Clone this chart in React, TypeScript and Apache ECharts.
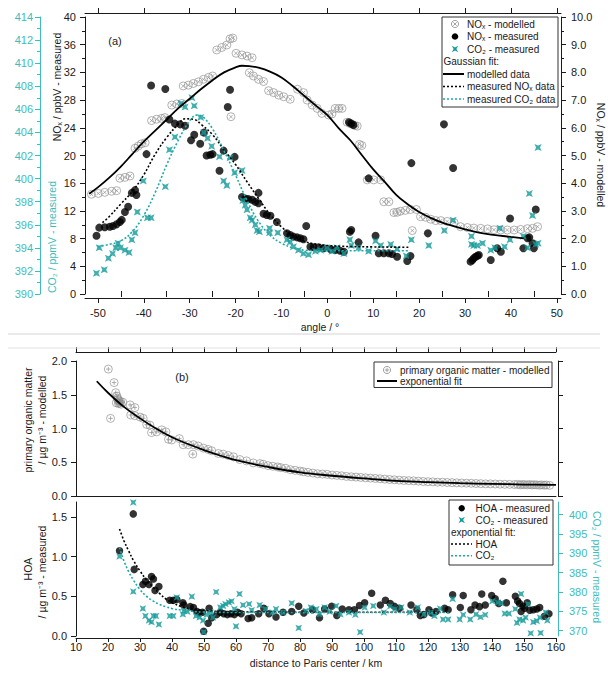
import React, { useEffect, useRef } from "react";
import * as echarts from "echarts";

// ---------------- Panel (a): angle (deg) ----------------
const angleTicks = [-50, -40, -30, -20, -10, 0, 10, 20, 30, 40, 50];
const angleMinorTicks = [-45, -35, -25, -15, -5, 5, 15, 25, 35, 45];

// NOx modelled [angle, ppbV] (right axis)
const noxModelled = [
  [-51.4, 3.6], [-49.9, 3.63], [-48.5, 3.67], [-47.0, 3.71], [-45.9, 3.73],
  [-45.2, 4.18], [-44.1, 4.21], [-43.0, 4.26],
  [-41.9, 5.26], [-41.2, 5.34], [-40.5, 5.42], [-39.7, 5.46],
  [-38.3, 6.26], [-37.2, 6.31], [-36.1, 6.34], [-35.4, 6.37],
  [-33.9, 6.82], [-32.8, 6.86], [-31.7, 6.88],
  [-31.4, 7.51], [-30.3, 7.54], [-29.2, 7.6], [-28.1, 7.66], [-27.0, 7.75], [-25.9, 7.82], [-25.0, 7.87],
  [-24.1, 8.81], [-23.0, 8.9], [-21.9, 8.99], [-21.2, 9.21], [-20.6, 9.24], [-21.0, 6.4],
  [-19.9, 8.69], [-18.6, 8.63], [-17.5, 8.59], [-16.4, 8.53],
  [-17.0, 7.99], [-16.1, 7.87], [-15.0, 7.75], [-13.9, 7.67],
  [-12.8, 7.34], [-11.7, 7.27], [-10.6, 7.18], [-9.5, 7.12], [-8.1, 7.03],
  [-6.5, 7.39], [-5.2, 7.27], [-4.4, 7.0], [-3.3, 6.82], [-2.2, 6.7], [-1.2, 6.52],
  [0.3, 6.46], [1.0, 6.5], [1.7, 6.7], [2.5, 6.7], [3.2, 6.7],
  [4.3, 6.2], [5.0, 6.15], [5.4, 6.13], [6.0, 6.08], [6.5, 6.06], [7.0, 5.4], [7.5, 5.36],
  [8.7, 4.12], [10.1, 4.12], [11.6, 4.12], [12.3, 3.33], [13.4, 3.33],
  [14.5, 2.94], [15.2, 2.95], [15.9, 2.99], [17.0, 3.02], [18.1, 3.05], [19.4, 3.05], [18.5, 2.29],
  [20.3, 2.79], [21.4, 2.77], [22.5, 2.7], [23.6, 2.65], [24.7, 2.65], [26.1, 2.62], [27.6, 2.58],
  [29.0, 2.43], [30.5, 2.4], [31.9, 2.38], [33.4, 2.37], [34.9, 2.35], [36.3, 2.32], [37.8, 2.31],
  [39.2, 2.31], [40.7, 2.31], [42.1, 2.33], [43.6, 2.36], [44.7, 2.37], [45.8, 2.43],
];
// Gaussian fit of modelled NOx [angle, ppbV]
const noxModelledFit = [
  [-51.9, 3.62], [-50, 3.85], [-47.5, 4.2], [-45, 4.6], [-42.5, 5.05], [-40, 5.5], [-37.5, 5.9],
  [-35, 6.3], [-32.5, 6.7], [-30, 7.05], [-27.5, 7.4], [-25, 7.72], [-22.5, 8.0], [-20, 8.18],
  [-18.6, 8.24], [-17, 8.23], [-15, 8.17], [-12.5, 8.03], [-10, 7.82], [-7.5, 7.5], [-5, 7.15],
  [-2.5, 6.8], [0, 6.46], [2.5, 5.98], [5, 5.55], [7.5, 5.02], [10, 4.5], [12.5, 4.05],
  [15, 3.58], [17.5, 3.24], [20, 2.96], [22.5, 2.75], [25, 2.58], [27.5, 2.45], [30, 2.33],
  [32.5, 2.23], [35, 2.16], [37.5, 2.11], [40, 2.06], [42.8, 2.01],
];
// NOx measured [angle, ppbV] (left axis)
const noxMeasured = [
  [-50.3, 8.42], [-49.7, 9.58], [-48.5, 9.63], [-47.4, 9.72], [-46.7, 9.82], [-45.9, 10.06], [-45.2, 10.4], [-44.8, 10.7],
  [-44.1, 11.84], [-43.4, 12.6], [-42.6, 14.6], [-41.9, 15.0], [-41.6, 14.3],
  [-39.4, 20.2], [-38.4, 30.1], [-35.3, 29.6], [-34.4, 25.2],
  [-33.2, 24.6], [-32.1, 24.5], [-31.0, 24.3],
  [-29.7, 22.2], [-29.0, 23.0], [-27.7, 21.7], [-26.9, 23.3], [-26.3, 20.0], [-25.5, 20.1], [-25.0, 20.2],
  [-23.5, 17.8], [-22.6, 20.7], [-21.7, 27.0], [-21.2, 29.5], [-20.2, 19.8],
  [-18.6, 14.0], [-17.9, 13.8], [-17.2, 13.7], [-16.4, 13.6], [-15.7, 13.3], [-15.0, 13.1], [-15.0, 14.6],
  [-13.9, 11.6], [-13.2, 11.4], [-12.4, 11.3], [-11.0, 10.4],
  [-8.8, 8.76], [-8.1, 8.52], [-7.4, 8.28], [-6.6, 8.18], [-5.9, 8.04], [-5.2, 7.9], [-4.6, 9.82],
  [-3.7, 6.83], [-3.0, 6.74], [-1.9, 6.74], [-0.8, 6.6], [0.7, 6.45], [1.7, 6.35], [2.8, 6.25], [3.6, 6.1],
  [4.7, 24.8], [5.2, 24.6], [5.7, 24.4], [4.9, 9.0], [5.2, 9.24], [6.8, 7.46],
  [9.0, 16.7], [10.5, 8.42], [11.2, 5.88], [12.3, 5.88], [13.4, 5.88], [14.1, 5.78], [15.2, 5.39],
  [17.4, 4.77], [18.1, 5.49], [18.3, 18.9], [21.9, 8.76], [25.4, 24.5], [27.4, 18.2],
  [31.2, 4.67], [31.6, 4.91], [31.9, 5.16], [32.3, 5.39], [32.7, 5.53], [33.0, 5.63],
  [35.6, 4.91], [37.0, 6.6], [37.8, 6.1], [39.8, 10.9], [42.7, 6.6], [43.6, 8.04], [44.0, 8.18],
  [44.7, 7.32], [45.0, 6.6], [45.4, 12.2],
];
// Gaussian fit of measured NOx [angle, ppbV]
const noxMeasuredFit = [
  [-49, 10.3], [-47.5, 11.2], [-45, 13.0], [-42.5, 14.8], [-40, 17.2], [-37.5, 20.2], [-35, 22.6],
  [-32.5, 24.5], [-31, 25.3], [-29, 25.2], [-27.5, 24.5], [-25, 23.0], [-22.5, 20.8], [-20, 18.7],
  [-17.5, 16.2], [-15, 13.8], [-12.5, 11.5], [-10, 9.7], [-7.5, 8.4], [-5, 7.6], [-2.5, 7.2],
  [0, 7.0], [5, 6.85], [10, 6.8], [15, 6.76], [18, 6.74],
];
// CO2 measured [angle, ppmV] (outer left axis)
const co2MeasuredA = [
  [-50.3, 391.8], [-49.7, 394.0], [-48.6, 392.1], [-47.7, 393.1], [-46.8, 393.5], [-46.1, 394.0], [-45.6, 394.4],
  [-45.1, 394.0], [-44.1, 393.8], [-43.2, 393.6], [-42.6, 394.7], [-41.9, 395.3], [-41.4, 397.1], [-40.1, 399.8],
  [-39.2, 396.6], [-38.4, 396.6], [-35.3, 399.3], [-34.4, 402.5], [-33.2, 403.6], [-31.9, 406.5], [-31.0, 406.2],
  [-29.5, 407.0], [-29.0, 406.3], [-27.6, 405.3], [-26.9, 404.0], [-26.1, 403.5], [-25.2, 402.8], [-23.5, 401.9],
  [-22.6, 399.8], [-21.9, 399.4], [-21.2, 401.8], [-20.2, 400.5], [-18.6, 400.7], [-18.4, 398.1], [-17.9, 397.7],
  [-17.5, 397.3], [-16.8, 396.6], [-16.4, 396.4], [-15.7, 396.0], [-15.3, 395.5], [-14.8, 395.4], [-12.6, 395.7],
  [-12.6, 395.3], [-10.8, 395.3], [-8.8, 394.7], [-8.1, 394.5], [-7.4, 394.1], [-6.3, 393.8], [-5.2, 393.5],
  [-4.1, 393.4], [-2.6, 393.7], [-1.5, 393.8], [-0.1, 394.0], [1.0, 393.7], [2.1, 394.0], [3.6, 393.5],
  [4.9, 394.7], [5.2, 394.2], [6.8, 394.0], [9.0, 393.7], [10.5, 394.6], [11.6, 394.2], [13.8, 394.3],
  [15.2, 393.9], [17.2, 393.3], [18.3, 394.7], [22.1, 394.2], [25.5, 395.5], [27.4, 396.4], [31.4, 395.0],
  [31.4, 394.3], [31.9, 394.2], [32.7, 394.2], [33.8, 394.4], [35.6, 393.8], [36.5, 394.0], [37.6, 395.7],
  [38.6, 394.1], [39.8, 394.7], [42.7, 395.0], [43.6, 394.0], [44.0, 398.7], [44.7, 396.8], [45.4, 394.3],
  [45.9, 394.4], [45.9, 402.7],
];
// Gaussian fit of measured CO2 [angle, ppmV]
const co2FitA = [
  [-50, 394.1], [-47.5, 394.3], [-45, 394.6], [-42.5, 395.4], [-40, 396.8], [-37.5, 398.8], [-35, 401.2],
  [-32.5, 403.3], [-30, 405.0], [-28.5, 405.5], [-27, 405.3], [-25, 404.3], [-22.5, 402.4], [-20, 400.3],
  [-17.5, 398.1], [-15, 396.3], [-12.5, 395.1], [-10, 394.4], [-7.5, 394.0], [-5, 393.8], [0, 393.75],
  [10, 393.75], [18, 393.75],
];

// ---------------- Panel (b): distance to Paris center (km) ----------------
const hoaTicks = [0, 0.5, 1.0, 1.5];
const co2TicksB = [370, 375, 380, 385, 390, 395, 400];

// primary organic matter modelled [km, ug m-3]
const pomModelled = [
  [20.1, 1.88], [21.9, 1.68], [20.8, 1.15], [22.4, 1.53], [22.8, 1.48], [22.9, 1.45], [23.1, 1.43], [23.3, 1.37],
  [23.4, 1.41], [23.6, 1.38], [22.6, 1.38], [23.9, 1.4], [24.1, 1.36], [24.6, 1.39], [26.9, 1.35], [28.4, 1.31],
  [27.1, 1.2], [28.4, 1.19], [30.0, 1.17], [31.0, 1.15], [32.1, 1.06], [33.1, 1.05], [33.6, 0.94], [35.2, 0.95],
  [36.8, 0.98], [38.1, 0.95], [38.9, 0.84], [39.9, 0.83], [42.3, 0.85], [43.5, 0.76], [45.1, 0.76], [46.7, 0.76],
  [48.2, 0.74], [46.5, 0.62], [49.8, 0.71], [51.3, 0.69], [52.4, 0.67], [54.5, 0.63], [56.0, 0.62], [57.6, 0.6],
  [59.2, 0.58], [61.2, 0.54], [63.3, 0.52], [65.4, 0.49], [67.5, 0.48], [68.5, 0.47], [70, 0.45], [71.5, 0.44],
  [73, 0.43], [74, 0.42], [75.5, 0.41], [77, 0.39], [78.5, 0.38], [80, 0.37], [81, 0.36], [82.5, 0.35],
  [84, 0.34], [85.5, 0.33], [87, 0.325], [88.5, 0.32], [90, 0.31], [91.5, 0.305], [93, 0.3], [94.5, 0.29],
  [96, 0.285], [97.5, 0.28], [99, 0.275], [100.5, 0.27], [102, 0.265], [103.5, 0.26], [105, 0.255], [106.5, 0.25],
  [108, 0.245], [109.5, 0.24], [111, 0.235], [112.5, 0.23], [114, 0.228], [115.5, 0.225], [117, 0.22], [118.5, 0.215],
  [120, 0.212], [121.5, 0.21], [123, 0.205], [124.5, 0.205], [126, 0.2], [127.5, 0.198], [129, 0.195], [130.5, 0.192],
  [132, 0.19], [133.5, 0.188], [135, 0.185], [136.5, 0.183], [138, 0.18], [139.5, 0.18], [141, 0.178], [142.5, 0.175],
  [144, 0.173], [145.5, 0.172], [147, 0.17], [148, 0.172], [148.8, 0.165], [149.5, 0.17], [150.2, 0.168], [151, 0.165],
  [151.8, 0.17], [152.5, 0.163], [153.2, 0.167], [154, 0.165], [154.8, 0.16], [155.5, 0.165], [156.3, 0.16],
  [157, 0.163], [158, 0.158],
];
// exponential fit [km, ug m-3]
const pomFit = [
  [16.5, 1.7], [20, 1.53], [25, 1.32], [30, 1.15], [35, 1.0], [40, 0.87], [45, 0.77], [50, 0.68], [55, 0.6],
  [60, 0.53], [70, 0.43], [80, 0.35], [90, 0.3], [100, 0.26], [110, 0.225], [120, 0.205], [130, 0.19],
  [140, 0.18], [150, 0.17], [160, 0.165],
];
// HOA measured [km, ug m-3]
const hoaMeasured = [
  [23.6, 1.075], [27.9, 1.54], [28.2, 0.84], [30.9, 0.65], [31.7, 0.69], [32.8, 0.65], [33.6, 0.75], [34.2, 0.72],
  [34.7, 0.575], [35.9, 0.625], [39.3, 0.45], [40.4, 0.45], [41.5, 0.46], [43.4, 0.42], [43.7, 0.39], [45.7, 0.37],
  [46.7, 0.36], [47.8, 0.31], [48.6, 0.29], [49.5, 0.3], [49.9, 0.06], [51.3, 0.16], [51.6, 0.35], [52.4, 0.23],
  [54.0, 0.27], [55.1, 0.3], [56.2, 0.28], [57.3, 0.27], [58.4, 0.28], [59.5, 0.27], [60.5, 0.3], [61.6, 0.28],
  [63.8, 0.22], [64.9, 0.23], [67.1, 0.28], [68.7, 0.35], [70.3, 0.28], [72.5, 0.24], [74.7, 0.3], [77.4, 0.31],
  [79.6, 0.375], [81.2, 0.29], [83.9, 0.33], [86.1, 0.23], [87.7, 0.34], [89.9, 0.375], [91.5, 0.26], [93.2, 0.34],
  [95.3, 0.33], [97.0, 0.33], [98.6, 0.385], [100.2, 0.42], [102.4, 0.54], [105.1, 0.39], [106.7, 0.45], [108.2, 0.41],
  [109.5, 0.375], [111.1, 0.35], [114.7, 0.39], [116.5, 0.33], [117.6, 0.26], [118.7, 0.27], [120.3, 0.33], [121.2, 0.29],
  [122.5, 0.31], [125.2, 0.35], [126.3, 0.33], [127.7, 0.52], [130.1, 0.36], [131.0, 0.51], [133.4, 0.33], [134.7, 0.39],
  [136.1, 0.37], [136.8, 0.53], [137.9, 0.39], [139.9, 0.51], [141.0, 0.47], [142.1, 0.41], [143.4, 0.69], [144.5, 0.42],
  [147.3, 0.5], [148.0, 0.44], [148.6, 0.41], [149.1, 0.31], [149.7, 0.375], [150.2, 0.35], [151.0, 0.42], [151.8, 0.325],
  [152.9, 0.33], [154.0, 0.34], [154.9, 0.36], [156.4, 0.25], [157.8, 0.28],
];
// HOA exponential fit
const hoaFit = [
  [23.6, 1.35], [25, 1.2], [26.5, 1.07], [28, 0.95], [30, 0.82], [32, 0.71], [34, 0.62], [36, 0.54],
  [38, 0.47], [40, 0.42], [43, 0.37], [46, 0.34], [50, 0.32], [55, 0.31], [60, 0.305], [80, 0.3],
  [100, 0.3], [127, 0.3],
];
// CO2 measured [km, ppmV]
const co2MeasuredB = [
  [23.6, 389.2], [27.9, 403.2], [27.9, 380.1], [30.9, 375.7], [31.7, 373.8], [32.8, 372.6], [33.6, 372.2], [34.2, 373.8],
  [35.0, 373.8], [35.9, 371.6], [39.3, 373.8], [40.4, 373.8], [41.5, 378.6], [43.4, 374.2], [43.7, 375.1], [44.8, 374.9],
  [46.2, 378.8], [47.5, 373.8], [48.6, 373.4], [49.7, 372.6], [49.9, 369.6], [50.8, 374.1], [52.1, 374.7], [52.8, 373.4],
  [53.8, 380.0], [55.1, 376.0], [56.0, 376.4], [56.7, 376.9], [57.8, 377.3], [58.6, 377.6], [59.5, 375.6], [60.0, 371.1],
  [61.1, 379.5], [62.2, 376.6], [64.1, 376.9], [64.9, 375.3], [67.4, 376.6], [69.2, 375.6], [71.4, 374.7], [72.5, 375.6],
  [74.7, 374.7], [77.4, 377.1], [79.6, 370.7], [81.8, 375.1], [83.4, 376.0], [85.1, 375.6], [86.1, 374.2], [87.7, 376.0],
  [89.3, 374.9], [91.3, 376.4], [92.6, 374.2], [95.3, 374.7], [97.3, 374.1], [98.8, 369.6], [100.2, 376.0], [102.9, 376.4],
  [106.2, 374.7], [108.2, 376.3], [109.7, 375.6], [111.6, 376.0], [114.3, 374.7], [116.8, 376.0], [118.7, 374.2], [120.9, 374.7],
  [122.0, 373.8], [123.8, 375.7], [124.7, 372.9], [126.3, 372.9], [127.7, 378.2], [129.9, 372.9], [131.0, 374.1], [133.2, 372.9],
  [135.0, 374.2], [136.4, 373.5], [137.9, 374.1], [140.1, 377.6], [141.8, 377.3], [142.9, 377.1], [144.0, 374.4], [145.3, 374.4],
  [147.3, 375.6], [147.8, 372.0], [148.6, 372.9], [149.1, 379.5], [149.7, 372.6], [150.5, 373.4], [151.3, 376.9], [152.1, 369.3],
  [152.9, 372.2], [154.0, 372.5], [155.0, 373.4], [155.2, 369.4], [156.8, 374.7], [157.3, 372.6],
];
// CO2 exponential fit
const co2FitB = [
  [23.6, 391.5], [25, 388.0], [26.5, 385.2], [28, 383.0], [30, 380.6], [32, 378.9], [34, 377.7], [36, 376.8],
  [38, 376.2], [40, 375.7], [43, 375.3], [46, 375.0], [50, 374.8], [60, 374.7], [127, 374.7],
];

// ---------------- styles ----------------
const FONT = "'Liberation Sans', Arial, Helvetica, sans-serif";
const INK = "#1a1a1a";
const TEAL = "#149a9a";
const TEAL_LINE = "#1fa8a8";
const TEAL_AXIS = "#40bcbc";
const GREY = "#8d8d8d";
const OTIMES = "path://M10,5A5,5,0,1,1,0,5A5,5,0,1,1,10,5ZM2.7,2.7L7.3,7.3M2.7,7.3L7.3,2.7";
const OPLUS = "path://M10,5A5,5,0,1,1,0,5A5,5,0,1,1,10,5ZM5,2.2L5,7.8M2.2,5L7.8,5";
const STAR = "path://M0,0L5,2.2L10,0L7.8,5L10,10L5,7.8L0,10L2.2,5Z";

const line = (color: string) => ({ show: true, onZero: false, lineStyle: { color, width: 1 } });
const noSplit = { show: false };

function txt(text: string, x: number, y: number, o: any = {}) {
  return {
    type: "text",
    x,
    y,
    rotation: o.rotation || 0,
    z: 100,
    style: {
      text,
      fill: o.color || INK,
      fontSize: o.size || 10,
      fontFamily: FONT,
      textAlign: o.align || "left",
      textVerticalAlign: "middle",
      align: o.align || "left",
      verticalAlign: "middle",
    },
  };
}
function seg(x1: number, y1: number, x2: number, y2: number, stroke: string, width: number, dash?: number[]) {
  return {
    type: "line",
    z: 100,
    shape: { x1, y1, x2, y2 },
    style: { stroke, lineWidth: width, lineDash: dash || null },
  };
}
function boxRect(x: number, y: number, w: number, h: number) {
  return { type: "rect", z: 99, shape: { x, y, width: w, height: h }, style: { fill: "#fff", stroke: "#333", lineWidth: 1 } };
}
function circleCross(cx: number, cy: number, plus: boolean) {
  const r = 3.6;
  const d = plus ? 2.2 : 1.7;
  const lines = plus
    ? [seg(cx - d, cy, cx + d, cy, GREY, 0.8), seg(cx, cy - d, cx, cy + d, GREY, 0.8)]
    : [seg(cx - d, cy - d, cx + d, cy + d, GREY, 0.8), seg(cx - d, cy + d, cx + d, cy - d, GREY, 0.8)];
  return [
    { type: "circle", z: 100, shape: { cx, cy, r }, style: { fill: "none", stroke: GREY, lineWidth: 0.8 } },
    ...lines,
  ];
}
function dot(cx: number, cy: number, r: number) {
  return { type: "circle", z: 100, shape: { cx, cy, r }, style: { fill: "#000" } };
}
function star(cx: number, cy: number) {
  const s = 3.2, k = 1.4;
  return {
    type: "polygon",
    z: 100,
    shape: {
      points: [
        [cx - s, cy - s], [cx, cy - k], [cx + s, cy - s], [cx + k, cy],
        [cx + s, cy + s], [cx, cy + k], [cx - s, cy + s], [cx - k, cy],
      ],
    },
    style: { fill: TEAL },
  };
}

function buildOption() {
  const tickFont = { fontSize: 11, fontFamily: FONT };
  const graphics: any[] = [
    seg(8, 334, 600, 334, "#d4d4d4", 1),
    seg(8, 348, 600, 348, "#e2e2e2", 1),
    txt("(a)", 115, 41, { size: 11, align: "center" }),
    txt("(b)", 182, 377, { size: 11, align: "center" }),
    // axis titles (a)
    txt("NOₓ / ppbV - measured", 57, 87, { rotation: Math.PI / 2, align: "center", size: 10.5 }),
    txt("CO₂ / ppmV - measured", 52, 237, { rotation: Math.PI / 2, align: "center", size: 10.5, color: TEAL_AXIS }),
    txt("NOₓ / ppbV - modelled", 601, 155, { rotation: -Math.PI / 2, align: "center", size: 10.5 }),
    txt("angle / °", 320, 327, { align: "center", size: 10.5 }),
    // axis titles (b)
    txt("primary organic matter", 28, 420, { rotation: Math.PI / 2, align: "center", size: 10.5 }),
    txt("/ µg m⁻³ - modelled", 42, 420, { rotation: Math.PI / 2, align: "center", size: 10.5 }),
    txt("HOA", 28, 569, { rotation: Math.PI / 2, align: "center", size: 10.5 }),
    txt("/ µg m⁻³ - measured", 42, 572, { rotation: Math.PI / 2, align: "center", size: 10.5 }),
    txt("CO₂ / ppmV - measured", 597, 567, { rotation: -Math.PI / 2, align: "center", size: 10.5, color: TEAL_AXIS }),
    txt("distance to Paris center / km", 316, 663, { align: "center", size: 10.5 }),
    // legend (a)
    boxRect(442, 17, 116, 90),
    ...circleCross(455, 24, false),
    txt("NOₓ - modelled", 467, 24),
    dot(455, 36.5, 3.3),
    txt("NOₓ - measured", 467, 36.5),
    star(455, 49),
    txt("CO₂ - measured", 467, 49),
    txt("Gaussian fit:", 443.5, 61.5),
    seg(443, 74, 464, 74, "#000", 2),
    txt("modelled data", 467, 74),
    seg(443, 86.5, 464, 86.5, "#000", 1.5, [2, 2]),
    txt("measured NOₓ data", 467, 86.5),
    seg(443, 99, 464, 99, TEAL_LINE, 1.5, [2, 2]),
    txt("measured CO₂ data", 467, 99),
    // legend (b) upper
    boxRect(374, 362, 178, 25.5),
    ...circleCross(387, 370, true),
    txt("primary organic matter - modelled", 400, 370),
    seg(377, 381, 397, 381, "#000", 2),
    txt("exponential fit", 400, 381),
    // legend (b) lower
    boxRect(449, 500, 104, 65),
    dot(461.7, 508.3, 3.2),
    txt("HOA - measured", 475.5, 508.3),
    star(461.7, 520),
    txt("CO₂ - measured", 475.5, 520),
    txt("exponential fit:", 451, 532.5),
    seg(451, 544, 472, 544, "#000", 1.5, [2, 2]),
    txt("HOA", 475.5, 544),
    seg(451, 555.7, 472, 555.7, TEAL_LINE, 1.5, [2, 2]),
    txt("CO₂", 475.5, 555.7),
  ];

  const angleRange = { min: -52.8, max: 50.9 };
  const xAxis: any[] = [
    // 0: panel (a) bottom, labelled
    {
      type: "value", gridIndex: 0, position: "bottom", offset: 4, ...angleRange,
      axisLine: line(INK), splitLine: noSplit,
      axisTick: { show: true, length: 5, customValues: angleTicks, lineStyle: { color: INK } },
      axisLabel: { show: true, customValues: angleTicks, color: INK, margin: 9, ...tickFont },
    },
    // 1: panel (a) bottom minor ticks
    {
      type: "value", gridIndex: 0, position: "bottom", offset: 4, ...angleRange,
      axisLine: { show: false }, splitLine: noSplit, axisLabel: { show: false },
      axisTick: { show: true, length: 3, customValues: angleMinorTicks, lineStyle: { color: INK } },
    },
    // 2: panel (a) top
    {
      type: "value", gridIndex: 0, position: "top", offset: 4, ...angleRange,
      axisLine: line(INK), splitLine: noSplit, axisLabel: { show: false },
      axisTick: { show: true, length: 5, customValues: angleTicks, lineStyle: { color: INK } },
    },
    // 3: panel (a) top minor
    {
      type: "value", gridIndex: 0, position: "top", offset: 4, ...angleRange,
      axisLine: { show: false }, splitLine: noSplit, axisLabel: { show: false },
      axisTick: { show: true, length: 3, customValues: angleMinorTicks, lineStyle: { color: INK } },
    },
    // 4: panel (b) upper bottom line
    {
      type: "value", gridIndex: 1, position: "bottom", offset: 0, min: 10, max: 160, interval: 10,
      axisLine: line(INK), splitLine: noSplit, axisLabel: { show: false }, axisTick: { show: false },
    },
    // 5: panel (b) upper top axis
    {
      type: "value", gridIndex: 1, position: "top", offset: 9, min: 10, max: 160, interval: 10,
      axisLine: line(INK), splitLine: noSplit, axisLabel: { show: false },
      axisTick: { show: true, length: 5, lineStyle: { color: INK } },
    },
    // 6: panel (b) lower bottom axis
    {
      type: "value", gridIndex: 2, position: "bottom", offset: 2, min: 10, max: 160, interval: 10,
      axisLine: line(INK), splitLine: noSplit,
      axisTick: { show: true, length: 4, lineStyle: { color: INK } },
      axisLabel: { show: true, color: INK, margin: 3, ...tickFont },
    },
  ];

  const yAxis: any[] = [
    // 0: NOx measured (a) left
    {
      type: "value", gridIndex: 0, position: "left", min: 0, max: 40, interval: 4,
      axisLine: line(INK), splitLine: noSplit,
      axisTick: { show: true, length: 5, lineStyle: { color: INK } },
      minorTick: { show: true, splitNumber: 2, length: 3, lineStyle: { color: INK } },
      axisLabel: { color: INK, margin: 9, ...tickFont },
    },
    // 1: CO2 (a) outer left
    {
      type: "value", gridIndex: 0, position: "left", offset: 45, min: 390, max: 414, interval: 2,
      axisLine: line(TEAL_AXIS), splitLine: noSplit,
      axisTick: { show: true, length: 5, lineStyle: { color: TEAL_AXIS } },
      minorTick: { show: true, splitNumber: 2, length: 3, lineStyle: { color: TEAL_AXIS } },
      axisLabel: { color: TEAL_AXIS, margin: 7, ...tickFont },
    },
    // 2: NOx modelled (a) right
    {
      type: "value", gridIndex: 0, position: "right", min: 0, max: 10, interval: 1,
      axisLine: line(INK), splitLine: noSplit,
      axisTick: { show: true, length: 5, lineStyle: { color: INK } },
      minorTick: { show: true, splitNumber: 2, length: 3, lineStyle: { color: INK } },
      axisLabel: { color: INK, margin: 10, formatter: (v: number) => v.toFixed(1), ...tickFont },
    },
    // 3: (b) upper left
    {
      type: "value", gridIndex: 1, position: "left", min: 0, max: 2, interval: 0.5,
      axisLine: line(INK), splitLine: noSplit,
      axisTick: { show: true, length: 5, lineStyle: { color: INK } },
      axisLabel: { color: INK, margin: 9, formatter: (v: number) => v.toFixed(1), ...tickFont },
    },
    // 4: (b) upper right
    {
      type: "value", gridIndex: 1, position: "right", offset: 2, min: 0, max: 2, interval: 0.5,
      axisLine: line(INK), splitLine: noSplit, axisLabel: { show: false },
      axisTick: { show: true, length: 5, lineStyle: { color: INK } },
    },
    // 5: (b) lower left HOA
    {
      type: "value", gridIndex: 2, position: "left", min: 0, max: 1.69,
      axisLine: line(INK), splitLine: noSplit,
      axisTick: { show: true, length: 5, customValues: hoaTicks, lineStyle: { color: INK } },
      axisLabel: { color: INK, margin: 9, customValues: hoaTicks, formatter: (v: number) => v.toFixed(1), ...tickFont },
    },
    // 6: (b) lower right CO2
    {
      type: "value", gridIndex: 2, position: "right", offset: 2, min: 368.6, max: 403.3,
      axisLine: line(TEAL_AXIS), splitLine: noSplit,
      axisTick: { show: true, length: 5, customValues: co2TicksB, lineStyle: { color: TEAL_AXIS } },
      axisLabel: { color: TEAL_AXIS, margin: 11, customValues: co2TicksB, ...tickFont },
    },
  ];

  const greyMarker = (sym: string, size: number) => ({
    type: "scatter", symbol: sym, symbolSize: size,
    itemStyle: { color: "rgba(0,0,0,0)", borderColor: GREY, borderWidth: 0.8, opacity: 0.85 },
  });
  const dotted = (color: string) => ({ type: "line", symbol: "none", smooth: 0.4, lineStyle: { color, width: 1.6, type: [2, 2] } });

  const series: any[] = [
    { ...greyMarker(OTIMES, 8), name: "NOx modelled", xAxisIndex: 0, yAxisIndex: 2, data: noxModelled },
    { type: "line", name: "Gaussian fit modelled", xAxisIndex: 0, yAxisIndex: 2, symbol: "none", smooth: 0.4, lineStyle: { color: "#000", width: 1.8 }, data: noxModelledFit },
    { type: "scatter", name: "NOx measured", xAxisIndex: 0, yAxisIndex: 0, symbol: "circle", symbolSize: 8, itemStyle: { color: "#000" }, data: noxMeasured },
    { ...dotted("#000"), name: "Gaussian fit NOx", xAxisIndex: 0, yAxisIndex: 0, data: noxMeasuredFit },
    { type: "scatter", name: "CO2 measured", xAxisIndex: 0, yAxisIndex: 1, symbol: STAR, symbolSize: 7, itemStyle: { color: TEAL }, data: co2MeasuredA },
    { ...dotted(TEAL_LINE), name: "Gaussian fit CO2", xAxisIndex: 0, yAxisIndex: 1, data: co2FitA },

    { ...greyMarker(OPLUS, 8), name: "POM modelled", xAxisIndex: 4, yAxisIndex: 3, data: pomModelled },
    { type: "line", name: "exponential fit POM", xAxisIndex: 4, yAxisIndex: 3, symbol: "none", smooth: 0.4, lineStyle: { color: "#000", width: 1.8 }, data: pomFit },

    { type: "scatter", name: "HOA measured", xAxisIndex: 6, yAxisIndex: 5, symbol: "circle", symbolSize: 7.5, itemStyle: { color: "#000" }, data: hoaMeasured },
    { type: "scatter", name: "CO2 measured b", xAxisIndex: 6, yAxisIndex: 6, symbol: STAR, symbolSize: 6.5, itemStyle: { color: TEAL }, data: co2MeasuredB },
    { ...dotted("#000"), name: "HOA fit", xAxisIndex: 6, yAxisIndex: 5, data: hoaFit },
    { ...dotted(TEAL_LINE), name: "CO2 fit", xAxisIndex: 6, yAxisIndex: 6, data: co2FitB },
  ];

  return {
    animation: false,
    backgroundColor: "#fff",
    textStyle: { fontFamily: FONT },
    grid: [
      { left: 85, top: 17, width: 476, height: 277 },
      { left: 76, top: 361, width: 480, height: 135 },
      { left: 76, top: 502, width: 480, height: 134 },
    ],
    xAxis,
    yAxis,
    series,
    graphic: { elements: graphics },
  };
}

export default function App() {
  const ref = useRef<HTMLDivElement>(null);
  useEffect(() => {
    if (!ref.current) return;
    const chart = echarts.init(ref.current, undefined, { renderer: "svg" });
    chart.setOption(buildOption() as any);
    return () => chart.dispose();
  }, []);
  return (
    <div
      ref={ref}
      style={{ position: "fixed", left: 0, top: 0, width: 608, height: 675, background: "#fff" }}
    />
  );
}
